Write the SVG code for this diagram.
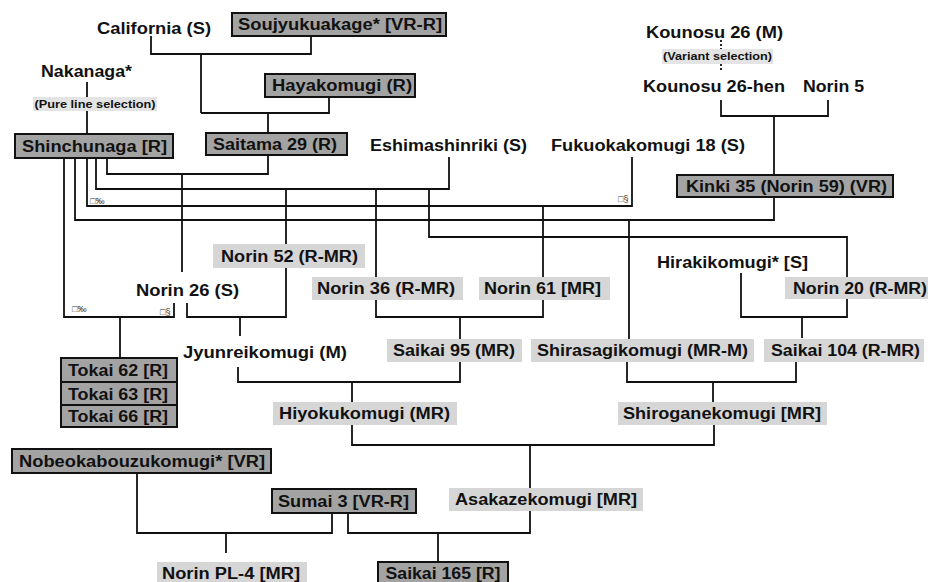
<svg xmlns="http://www.w3.org/2000/svg" width="928" height="582" viewBox="0 0 928 582">
<style>
text{font-family:"Liberation Sans",Arial,sans-serif;font-weight:bold;font-size:16px;fill:#111;text-anchor:middle}
.sm{font-size:10px}
.gl{font-size:9px;font-weight:normal;text-anchor:start;fill:#333}
.dk{fill:#a3a3a3;stroke:#111;stroke-width:2}
.lt{fill:#d6d6d6;stroke:none}
.lb{fill:#e4e4e4;stroke:none}
.c path{fill:none;stroke:#111;stroke-width:1.8}
.c path.dot{stroke-dasharray:2 2}
</style>
<rect width="928" height="582" fill="#fff"/>
<g class="c" id="connectors">
<path d="M151,36 V54 H311 V36 M201,54 V113 M329,97 V113 H201 M268,113 V133"/>
<path d="M87,82 V97 M87,111 V134"/>
<path d="M107,159 V174 H268 V155 M182,174 V272"/>
<path d="M96,159 V189 H449 V157 M286,189 V244 M376,189 V277 M429,189 V237 H847 V277"/>
<path d="M87,159 V206 H632 V157 M543,206 V277"/>
<path d="M75,159 V220 H774 V197 M629,220 V339"/>
<path d="M64,159 V317 H174 V303 M120,317 V358"/>
<path d="M187,303 V317 H286 V268 M240,317 V336"/>
<path d="M376,300 V317 H543 V300 M460,317 V339"/>
<path d="M741,273 V317 H847 V299 M802,317 V338"/>
<path d="M238,367 V382 H460 V362 M352,382 V402"/>
<path d="M627,362 V382 H796 V362 M713,382 V402"/>
<path d="M352,425 V445 H714 V425 M530,445 V488"/>
<path d="M137,473 V533 H332 V513 M226,533 V553"/>
<path d="M348,513 V533 H530 V511 M438,533 V562"/>
<path d="M721,100 V116 H828 V100 M774,116 V175"/>
<path class="dot" d="M721,40 V49 M721,64 V72"/>
</g>
<g id="glyphs">
<text class="gl" x="90" y="204">□‰</text>
<text class="gl" x="618" y="202">□§</text>
<text class="gl" x="72" y="312">□‰</text>
<text class="gl" x="160" y="315">□§</text>
</g>
<g id="california"><text x="154" y="34" textLength="114" lengthAdjust="spacingAndGlyphs">California (S)</text></g>
<g id="soujyukuakage"><rect class="dk" x="232" y="13" width="214" height="23"/><text x="340" y="30" textLength="204" lengthAdjust="spacingAndGlyphs">Soujyukuakage* [VR-R]</text></g>
<g id="nakanaga"><text x="86.5" y="77" textLength="91" lengthAdjust="spacingAndGlyphs">Nakanaga*</text></g>
<g id="pureline"><rect class="lb" x="33" y="97" width="124" height="14"/><text class="sm" x="95" y="107.5" textLength="121" lengthAdjust="spacingAndGlyphs">(Pure line selection)</text></g>
<g id="hayakomugi"><rect class="dk" x="265" y="74" width="150" height="23"/><text x="342" y="91" textLength="140" lengthAdjust="spacingAndGlyphs">Hayakomugi (R)</text></g>
<g id="shinchunaga"><rect class="dk" x="15" y="134" width="158" height="24"/><text x="94.5" y="151.5" textLength="145" lengthAdjust="spacingAndGlyphs">Shinchunaga [R]</text></g>
<g id="saitama29"><rect class="dk" x="206" y="133" width="141" height="22"/><text x="275" y="149.5" textLength="124" lengthAdjust="spacingAndGlyphs">Saitama 29 (R)</text></g>
<g id="eshimashinriki"><text x="448.5" y="150.5" textLength="157" lengthAdjust="spacingAndGlyphs">Eshimashinriki (S)</text></g>
<g id="fukuoka18"><text x="648" y="150.5" textLength="194" lengthAdjust="spacingAndGlyphs">Fukuokakomugi 18 (S)</text></g>
<g id="kounosu26"><text x="714.5" y="37.5" textLength="137" lengthAdjust="spacingAndGlyphs">Kounosu 26 (M)</text></g>
<g id="variant"><rect class="lb" x="662" y="49" width="111" height="15"/><text class="sm" x="717.5" y="60" textLength="109" lengthAdjust="spacingAndGlyphs">(Variant selection)</text></g>
<g id="kounosu26hen"><text x="714" y="91.5" textLength="142" lengthAdjust="spacingAndGlyphs">Kounosu 26-hen</text></g>
<g id="norin5"><text x="833.5" y="91.5" textLength="61" lengthAdjust="spacingAndGlyphs">Norin 5</text></g>
<g id="kinki35"><rect class="dk" x="677" y="175" width="216" height="22"/><text x="786.5" y="191.5" textLength="201" lengthAdjust="spacingAndGlyphs">Kinki 35 (Norin 59) (VR)</text></g>
<g id="norin52"><rect class="lt" x="213" y="244" width="152" height="24"/><text x="289.5" y="261.5" textLength="137" lengthAdjust="spacingAndGlyphs">Norin 52 (R-MR)</text></g>
<g id="norin26"><text x="187.5" y="295.5" textLength="103" lengthAdjust="spacingAndGlyphs">Norin 26 (S)</text></g>
<g id="norin36"><rect class="lt" x="312" y="277" width="151" height="23"/><text x="386" y="294" textLength="138" lengthAdjust="spacingAndGlyphs">Norin 36 (R-MR)</text></g>
<g id="norin61"><rect class="lt" x="479" y="277" width="131" height="23"/><text x="542.5" y="294" textLength="117" lengthAdjust="spacingAndGlyphs">Norin 61 [MR]</text></g>
<g id="hirakikomugi"><text x="732.5" y="267.5" textLength="151" lengthAdjust="spacingAndGlyphs">Hirakikomugi* [S]</text></g>
<g id="norin20"><rect class="lt" x="785" y="277" width="143" height="22"/><text x="860" y="293.5" textLength="134" lengthAdjust="spacingAndGlyphs">Norin 20 (R-MR)</text></g>
<g id="jyunreikomugi"><text x="265" y="357.5" textLength="164" lengthAdjust="spacingAndGlyphs">Jyunreikomugi (M)</text></g>
<g id="saikai95"><rect class="lt" x="387" y="339" width="135" height="23"/><text x="454" y="356" textLength="122" lengthAdjust="spacingAndGlyphs">Saikai 95 (MR)</text></g>
<g id="shirasagikomugi"><rect class="lt" x="531" y="339" width="223" height="23"/><text x="642.5" y="356" textLength="211" lengthAdjust="spacingAndGlyphs">Shirasagikomugi (MR-M)</text></g>
<g id="saikai104"><rect class="lt" x="764" y="339" width="160" height="23"/><text x="845.5" y="356" textLength="149" lengthAdjust="spacingAndGlyphs">Saikai 104 (R-MR)</text></g>
<g id="tokai62"><rect class="dk" x="61" y="358" width="116" height="24"/><text x="118" y="375.5" textLength="100" lengthAdjust="spacingAndGlyphs">Tokai 62 [R]</text></g>
<g id="tokai63"><rect class="dk" x="61" y="382" width="116" height="23"/><text x="118" y="399.5" textLength="100" lengthAdjust="spacingAndGlyphs">Tokai 63 [R]</text></g>
<g id="tokai66"><rect class="dk" x="61" y="405" width="116" height="22"/><text x="118" y="421.5" textLength="100" lengthAdjust="spacingAndGlyphs">Tokai 66 [R]</text></g>
<g id="hiyokukomugi"><rect class="lt" x="273" y="402" width="184" height="23"/><text x="364.5" y="419" textLength="171" lengthAdjust="spacingAndGlyphs">Hiyokukomugi (MR)</text></g>
<g id="shiroganekomugi"><rect class="lt" x="618" y="402" width="209" height="23"/><text x="722" y="419" textLength="198" lengthAdjust="spacingAndGlyphs">Shiroganekomugi [MR]</text></g>
<g id="nobeoka"><rect class="dk" x="12" y="449" width="259" height="24"/><text x="142" y="466.5" textLength="246" lengthAdjust="spacingAndGlyphs">Nobeokabouzukomugi* [VR]</text></g>
<g id="sumai3"><rect class="dk" x="272" y="489" width="144" height="24"/><text x="343.5" y="506.5" textLength="131" lengthAdjust="spacingAndGlyphs">Sumai 3 [VR-R]</text></g>
<g id="asakazekomugi"><rect class="lt" x="449" y="488" width="194" height="23"/><text x="546" y="505" textLength="182" lengthAdjust="spacingAndGlyphs">Asakazekomugi [MR]</text></g>
<g id="norinpl4"><rect class="lt" x="157" y="562" width="150" height="24"/><text x="231" y="578.5" textLength="138" lengthAdjust="spacingAndGlyphs">Norin PL-4 [MR]</text></g>
<g id="saikai165"><rect class="dk" x="378" y="562" width="130" height="24"/><text x="443" y="578.5" textLength="115" lengthAdjust="spacingAndGlyphs">Saikai 165 [R]</text></g>
</svg>
